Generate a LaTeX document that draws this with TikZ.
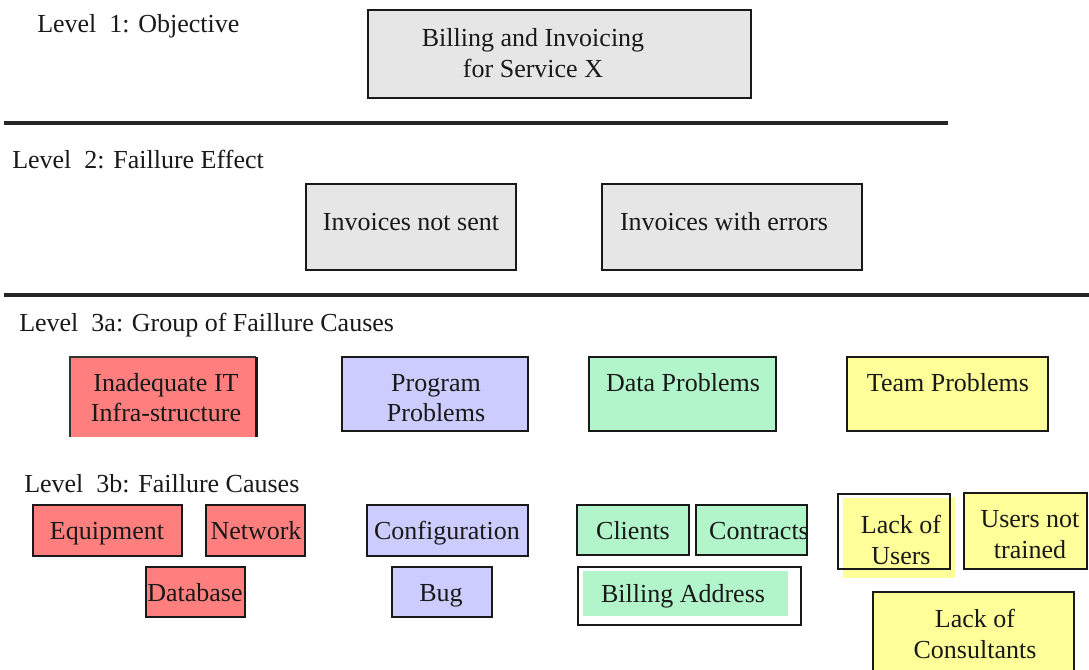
\documentclass[tikz,border=0pt]{standalone}
\usepackage{fontspec}
\setmainfont{Liberation Serif}
\newfontfamily\timesfont{Liberation Serif}
\usetikzlibrary{fit}
\definecolor{boxgray}{HTML}{E6E6E6}
\definecolor{boxred}{HTML}{FF7F7F}
\definecolor{boxblue}{HTML}{CCCCFF}
\definecolor{boxgreen}{HTML}{B3F5CB}
\definecolor{boxyellow}{HTML}{FFFF99}
\begin{document}
\begin{tikzpicture}[x=0.75pt,y=-0.75pt,
  box/.style={draw=black!90, line width=2pt, inner sep=0pt, rectangle},
  fillonly/.style={inner sep=0pt, rectangle, draw=none},
  txt/.style={font=\timesfont\fontsize{19.5pt}{23pt}\selectfont, inner sep=0pt, anchor=base, text=black!90},
  lvl/.style={txt, anchor=base west},
  sep/.style={line width=2.4pt, draw=black!85}]
\useasboundingbox (0,0) rectangle (1089,670);

% separators
\coordinate (s1a) at (4,123);  \coordinate (s1b) at (948,123);
\coordinate (s2a) at (4,295);  \coordinate (s2b) at (1089,295);
\draw[sep] (s1a) -- (s1b);
\draw[sep] (s2a) -- (s2b);

% level labels
\node[lvl] (l1) at (37,33) {Level~~1: Objective};
\node[lvl] (l2) at (12,169) {Level~~2: Faillure Effect};
\node[lvl] (l3a) at (19,332) {Level~~3a: Group of Faillure Causes};
\node[lvl] (l3b) at (24,492) {Level~~3b: Faillure Causes};

% level 1
\node[box, fill=boxgray, fit={(368,10) (751,98)}] (obj) {};
\node[txt] (objt1) at (533,47) {Billing and Invoicing};
\node[txt] (objt2) at (533,78) {for Service X};

% level 2
\node[box, fill=boxgray, fit={(306,184) (516,270)}] (ns) {};
\node[txt] (nst) at (411,231) {Invoices not sent};
\node[box, fill=boxgray, fit={(602,184) (862,270)}] (we) {};
\node[txt] (wet) at (724,231) {Invoices with errors};

% level 3a
\node[fillonly, fill=boxred, fit={(70,357) (256,437)}] (ina) {};
\draw[draw=black!80, line width=1.2pt] (ina.south west) -- (ina.north west) -- (ina.north east);
\draw[draw=black!90, line width=2pt] (ina.north east) -- (ina.south east);
\node[txt] (inat1) at (166,392) {Inadequate IT};
\node[txt] (inat2) at (166,421) {Infra-structure};

\node[box, fill=boxblue, fit={(342,357) (528,431)}] (prog) {};
\node[txt] (progt1) at (436,392) {Program};
\node[txt] (progt2) at (436,421) {Problems};

\node[box, fill=boxgreen, fit={(589,357) (776,431)}] (data) {};
\node[txt] (datat) at (683,392) {Data Problems};

\node[box, fill=boxyellow, fit={(847,357) (1048,431)}] (team) {};
\node[txt] (teamt) at (948,391) {Team Problems};

% level 3b : red
\node[box, fill=boxred, fit={(33,505) (182,556)}] (equ) {};
\node[txt] (equt) at (107,539) {Equipment};
\node[box, fill=boxred, fit={(206,505) (305,556)}] (net) {};
\node[txt] (nett) at (256,539) {Network};
\node[box, fill=boxred, fit={(146,567) (245,617)}] (db) {};
\node[txt] (dbt) at (195,601) {Database};

% blue
\node[box, fill=boxblue, fit={(367,505) (528,556)}] (conf) {};
\node[txt] (conft) at (447,539) {Configuration};
\node[box, fill=boxblue, fit={(392,567) (492,617)}] (bug) {};
\node[txt] (bugt) at (441,601) {Bug};

% green
\node[box, fill=boxgreen, fit={(577,505) (689,555)}] (cli) {};
\node[txt] (clit) at (633,539) {Clients};
\node[box, fill=boxgreen, fit={(696,505) (807,555)}] (con) {};
\node[txt] (cont) at (759,539) {Contracts};
\node[fillonly, fill=boxgreen, fit={(583,571) (788,616)}] (bafill) {};
\node[box, fit={(578,567) (801,625)}] (ba) {};
\node[txt] (bat) at (683,602) {Billing Address};

% yellow
\node[fillonly, fill=boxyellow, fit={(843,498) (955,578)}] (lufill) {};
\node[box, fit={(838,494) (950,569)}] (lu) {};
\node[txt] (lut1) at (901,533) {Lack of};
\node[txt] (lut2) at (901,564) {Users};
\node[box, fill=boxyellow, fit={(964,493) (1087,569)}] (unt) {};
\node[txt] (untt1) at (1030,527) {Users not};
\node[txt] (untt2) at (1030,558) {trained};
\node[box, fill=boxyellow, fit={(873,592) (1074,680)}] (lc) {};
\node[txt] (lct1) at (975,627) {Lack of};
\node[txt] (lct2) at (975,658) {Consultants};
\end{tikzpicture}
\end{document}
